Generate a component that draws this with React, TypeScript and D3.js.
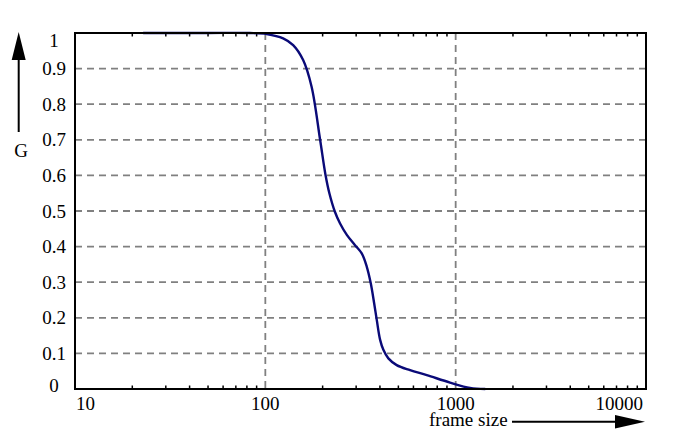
import React from 'react';
import * as d3 from 'd3';

// values
const frameSize = [22.8, 50, 83, 101.7, 124, 140, 158, 175, 194, 207, 217, 232, 247, 268, 296, 321, 341, 358, 373, 385, 401, 417, 443, 490, 576, 705, 934, 1190, 1430];
const gValues = [1, 1, 1, 0.997, 0.985, 0.966, 0.924, 0.849, 0.7, 0.602, 0.55, 0.498, 0.465, 0.433, 0.404, 0.381, 0.344, 0.297, 0.241, 0.194, 0.138, 0.11, 0.086, 0.067, 0.053, 0.039, 0.018, 0.003, 0];

const yTicks = [0, 0.1, 0.2, 0.3, 0.4, 0.5, 0.6, 0.7, 0.8, 0.9, 1];
const xLabels = [10, 100, 1000, 10000];
const xGrid = [100, 1000];

const W = 694;
const H = 440;
const textStyle = { fontFamily: "'Liberation Serif', 'DejaVu Serif', serif" };

export default function App() {
  const x = d3.scaleLog().domain([10, 10000]).range([75, 646]);
  const y = d3.scaleLinear().domain([0, 1]).range([389, 33]);

  const line = d3.line<number>()
    .x((_, i) => x(frameSize[i]))
    .y(d => y(d))
    .curve(d3.curveCatmullRom.alpha(0.5));

  // minor ticks 20..90, 200..900, 2000..9000
  const minor = x.ticks().filter(v => !xLabels.includes(v));

  const [x0, x1] = x.range();
  const [y0, y1] = y.range();

  return (
    <svg width={W} height={H} style={{ position: 'absolute', left: 0, top: 0, background: '#fff' }}>
      {/* grid */}
      <g stroke="#808080" strokeWidth={1.8} strokeDasharray="7,5">
        {yTicks.filter(t => t > 0 && t < 1).map(t => (
          <line key={t} x1={x0} x2={x1} y1={y(t)} y2={y(t)} />
        ))}
        {xGrid.map(v => (
          <line key={v} x1={x(v)} x2={x(v)} y1={y1} y2={y0} />
        ))}
      </g>

      {/* minor ticks, inward on top and bottom */}
      <g stroke="#000" strokeWidth={1.5}>
        {minor.map(v => (
          <g key={v}>
            <line x1={x(v)} x2={x(v)} y1={y0} y2={y0 - 3.5} />
            <line x1={x(v)} x2={x(v)} y1={y1} y2={y1 + 3.5} />
          </g>
        ))}
      </g>

      {/* curve */}
      <path d={line(gValues) || ''} fill="none" stroke="#0a0a78" strokeWidth={2.4} />

      {/* frame */}
      <rect x={x0} y={y1} width={x1 - x0} height={y0 - y1} fill="none" stroke="#000" strokeWidth={2} />

      {/* y labels */}
      <g fontSize={19} textAnchor="middle" fill="#000">
        {yTicks.map(t => {
          let base = y(t) + 6.5;
          if (t === 1) base = y(t) + 14;
          if (t === 0) base = y(t) + 3;
          return <text key={t} x={54} y={base} style={textStyle}>{t}</text>;
        })}
      </g>

      {/* x labels */}
      <g fontSize={19} fill="#000">
        {xLabels.map((v, i) => {
          const anchor = i === 0 ? 'start' : i === xLabels.length - 1 ? 'end' : 'middle';
          const px = i === 0 ? x(v) + 1 : i === xLabels.length - 1 ? x(v) - 3 : x(v);
          return <text key={v} x={px} y={410} textAnchor={anchor} style={textStyle}>{v}</text>;
        })}
      </g>

      {/* y axis arrow + title */}
      <line x1={18.7} x2={18.7} y1={50} y2={132} stroke="#000" strokeWidth={2} />
      <path d="M18.7,32 L11.7,60 L25.7,60 Z" fill="#000" />
      <text x={21} y={157} fontSize={19} textAnchor="middle" style={textStyle}>G</text>

      {/* x axis title + arrow */}
      <text x={429} y={426} fontSize={19} style={textStyle}>frame size</text>
      <line x1={512} x2={620} y1={421.7} y2={421.7} stroke="#000" strokeWidth={2} />
      <path d="M645,421.7 L615,415 L615,428.4 Z" fill="#000" />
    </svg>
  );
}
